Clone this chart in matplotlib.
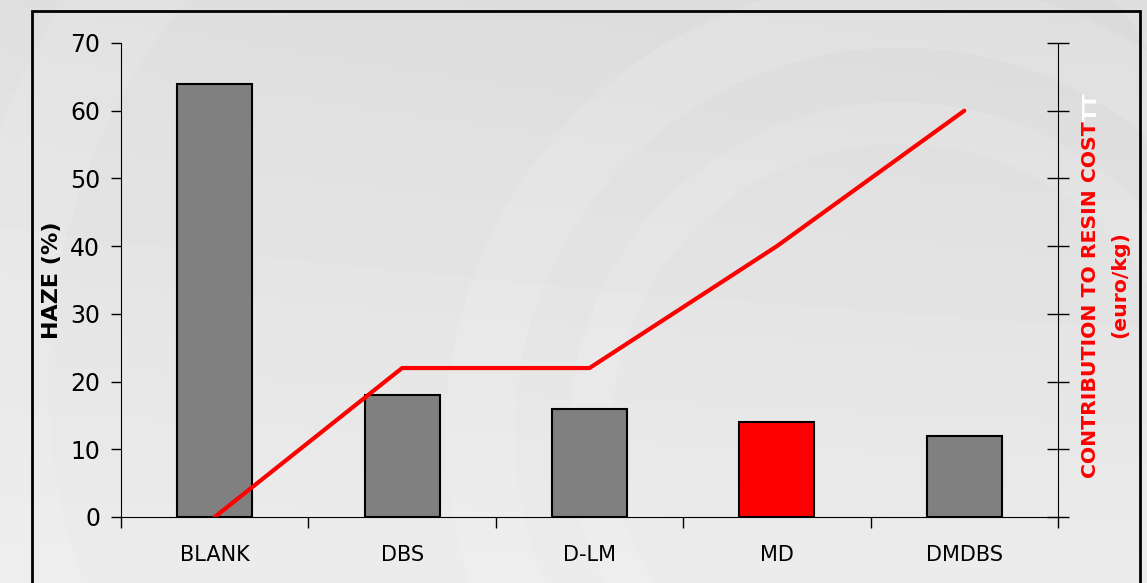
import matplotlib.pyplot as plt
import numpy as np
from matplotlib import patches

categories = ['BLANK', 'DBS', 'D-LM', 'MD', 'DMDBS']
haze = [64, 18, 16, 14, 12]
cost = [0, 22, 22, 40, 60]
bar_colors = ['#808080', '#808080', '#808080', '#ff0000', '#808080']
yticks = [0, 10, 20, 30, 40, 50, 60, 70]

plt.rcParams['font.family'] = ['DejaVu Sans']

W, H = 1147, 583
fig = plt.figure(figsize=(W / 100, H / 100), dpi=100)

# background: soft gray gradient with faint watermark arcs
bg = fig.add_axes([0, 0, 1, 1])
bg.set_xlim(0, W)
bg.set_ylim(0, H)
bg.set_axis_off()
gx = np.linspace(0, 1, 300)
gy = np.linspace(0, 1, 150)
GX, GY = np.meshgrid(gx, gy)
grad = 0.855 + 0.07 * (1 - GY) + 0.02 * (1 - GX) * GY
bg.imshow(grad, extent=[0, W, 0, H], cmap='gray', vmin=0, vmax=1,
          aspect='auto', origin='lower', zorder=0)
for cx, cy, r, lw in [(900, 150, 420, 50), (900, 150, 310, 30), (650, 200, 650, 70)]:
    bg.add_patch(patches.Circle((cx, cy), r, fill=False, lw=lw,
                                edgecolor='white', alpha=0.12, zorder=1))
bg.add_patch(patches.Rectangle((32, -10), 1108, H - 11 + 10, fill=False,
                               lw=2, edgecolor='black', zorder=2))

ax = fig.add_axes([121 / W, 66 / H, 937 / W, 474 / H])
ax.patch.set_alpha(0)
x = np.arange(len(categories))
ax.bar(x, haze, width=0.4, color=bar_colors, edgecolor='black', linewidth=1.5, zorder=2)
ax.set_xlim(-0.5, len(categories) - 0.5)
ax.set_ylim(0, 70)
ax.set_yticks(yticks)
ax.tick_params(axis='y', direction='out', length=7, width=1, labelsize=17, pad=8)
ax.set_xticks(np.arange(-0.5, len(categories)), labels=[])
ax.set_xticks(x, labels=categories, minor=True)
ax.tick_params(axis='x', which='major', direction='out', length=8, width=1)
ax.tick_params(axis='x', which='minor', length=0, labelsize=15, pad=20)
ax.spines['top'].set_visible(False)
ax.spines['right'].set_visible(False)
ax.set_ylabel('HAZE (%)', fontsize=16, fontweight='bold', labelpad=6)

ax2 = ax.twinx()
ax2.plot(x, cost, color='#ff0000', lw=3, zorder=3, solid_capstyle='round')
ax2.set_ylim(0, 70)
ax2.set_yticks(yticks, labels=[])
ax2.tick_params(axis='y', direction='inout', length=16, width=1)
ax2.spines['top'].set_visible(False)
ax2.spines['left'].set_visible(False)
ax2.spines['bottom'].set_visible(False)

fig.text(1091 / W, (H - 478) / H, 'CONTRIBUTION TO RESIN COST', rotation=90,
         ha='center', va='bottom', color='#ff0000', fontsize=14.7,
         fontweight='bold')
fig.text(1091 / W, (H - 121) / H, 'TT', rotation=90, ha='center', va='bottom',
         color='white', fontsize=14.7, fontweight='bold')
fig.text(1120 / W, (H - 285) / H, '(euro/kg)', rotation=90, ha='center',
         va='center', color='#ff0000', fontsize=14.7, fontweight='bold')

fig.savefig('out.png', dpi=100)
